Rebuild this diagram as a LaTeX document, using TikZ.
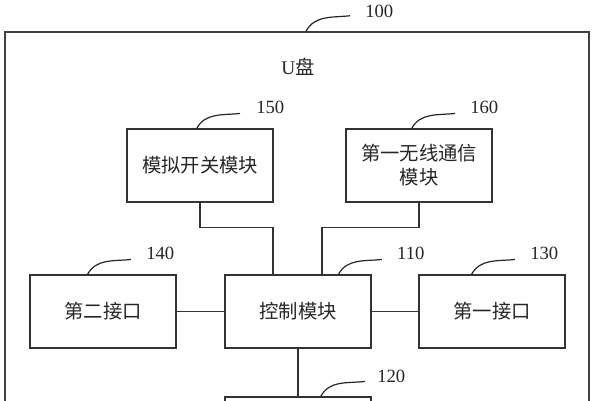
\documentclass[tikz,border=0pt]{standalone}
\usepackage{fontspec}
\setmainfont{Liberation Serif}
\newfontfamily\cjk{Noto Sans CJK SC}
\usetikzlibrary{calc}
\begin{document}
\begin{tikzpicture}[x=0.75pt,y=-0.75pt,
  box/.style={draw=black!80, line width=0.8pt, minimum width=109.5pt, minimum height=54.75pt,
    inner sep=0pt, align=center, font=\cjk\fontsize{14.5}{18}\selectfont, text=black!85},
  wire/.style={draw=black!80, line width=0.8pt},
  leader/.style={draw=black!85, line width=0.9pt},
  lbl/.style={anchor=west, inner sep=0pt, font=\fontsize{14}{16}\selectfont, text=black!85}]
\clip (0,0) rectangle (596,400);
\useasboundingbox (0,0) rectangle (596,400);
% outer container
\node[draw=black!75, line width=1.1pt, minimum width=438pt, minimum height=396pt, inner sep=0pt] (upan) at (297,296) {};
\node[inner sep=0pt, font=\fontsize{14.5}{18}\selectfont, text=black!85] (title) at (298,67) {U{\cjk 盘}};
% boxes
\node[box] (n150) at (200,165.5) {模拟开关模块};
\node[box] (n160) at (419,165.5) {第一无线通信\\模块};
\node[box] (n140) at (103,311.5) {第二接口};
\node[box] (n110) at (298,311.5) {控制模块};
\node[box] (n130) at (492,311.5) {第一接口};
\node[box] (n120) at (298,433.5) {};
% connectors
\draw[wire] (n150.south) -- ++(0,25) -| ($(n110.north)+(-25,0)$);
\draw[wire] (n160.south) -- ++(0,25) -| ($(n110.north)+(24,0)$);
\draw[wire] (n140.east) -- (n110.west);
\draw[wire] (n110.east) -- (n130.west);
\draw[wire] (n110.south) -- (n120.north);
% leaders and labels
\draw[leader] ($(upan.north)+(9,0)$) to[out=62,in=186] ++(44,-15.5) coordinate (e100);
\node[lbl] at ($(e100)+(15,-4.5)$) {100};
\draw[leader] ($(n150.north)+(-3.3,0)$) to[out=62,in=186] ++(43.3,-15) coordinate (e150);
\node[lbl] at ($(e150)+(16,-6.5)$) {150};
\draw[leader] ($(n160.north)+(-7.3,0)$) to[out=62,in=186] ++(43.3,-15) coordinate (e160);
\node[lbl] at ($(e160)+(15,-6.5)$) {160};
\draw[leader] ($(n140.north)+(-15.5,0)$) to[out=62,in=186] ++(43.5,-15) coordinate (e140);
\node[lbl] at ($(e140)+(15,-6.5)$) {140};
\draw[leader] ($(n110.north)+(40.4,0)$) to[out=62,in=186] ++(43.5,-15) coordinate (e110);
\node[lbl] at ($(e110)+(15,-6.5)$) {110};
\draw[leader] ($(n130.north)+(-20.5,0)$) to[out=62,in=186] ++(43.5,-15) coordinate (e130);
\node[lbl] at ($(e130)+(15,-6.5)$) {130};
\draw[leader] ($(n120.north)+(22.7,0)$) to[out=62,in=186] ++(44.3,-15) coordinate (e120);
\node[lbl] at ($(e120)+(12,-5)$) {120};
\end{tikzpicture}
\end{document}
